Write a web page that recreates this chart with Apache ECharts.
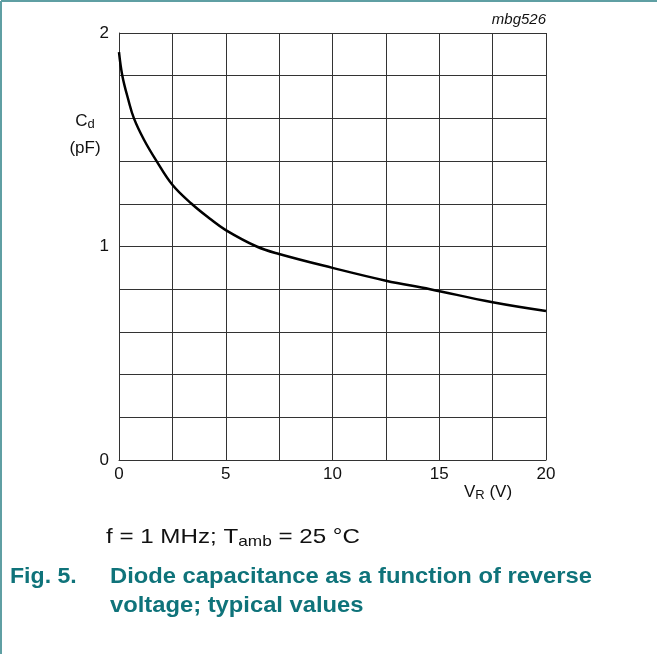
<!DOCTYPE html>
<html><head><meta charset="utf-8">
<script src="https://cdn.jsdelivr.net/npm/echarts@6/dist/echarts.min.js"></script>
<style>html,body{margin:0;padding:0;background:#fff}#c{width:657px;height:654px}</style>
</head><body><div id="c"></div>
<script>
const voltage = [0, 0.156, 0.44, 0.7, 1.17, 1.76, 2.5, 3.4, 4.26, 5, 6.45, 7.5, 10, 12.5, 14.57, 17.5, 20];
const capacitance = [1.91, 1.80, 1.686, 1.60, 1.50, 1.40, 1.289, 1.20, 1.13, 1.077, 1.00, 0.965, 0.90, 0.84, 0.80, 0.739, 0.698];
const xTickLabels = ['0', '5', '10', '15', '20'];
const yTickLabels = ['0', '1', '2'];

const chart = echarts.init(document.getElementById('c'));
const font = 'Liberation Sans, Arial, sans-serif';
const teal = '#0f737a';
chart.setOption({
  animation: false,
  grid: {left: 119, top: 33, width: 427, height: 427, show: false},
  xAxis: {
    type: 'value', min: 0, max: 20, interval: 2.5,
    axisLine: {show: true, lineStyle: {color: '#333', width: 1}},
    axisTick: {show: false},
    splitLine: {show: true, lineStyle: {color: '#333', width: 1}},
    axisLabel: {
      margin: 6, color: '#111', fontSize: 17, fontFamily: font,
      formatter: v => xTickLabels.includes(String(v)) ? String(v) : ''
    }
  },
  yAxis: {
    type: 'value', min: 0, max: 2, interval: 0.2,
    axisLine: {show: true, lineStyle: {color: '#333', width: 1}},
    axisTick: {show: false},
    splitLine: {show: true, lineStyle: {color: '#333', width: 1}},
    axisLabel: {
      margin: 10, color: '#111', fontSize: 17, fontFamily: font,
      formatter: v => { const s = String(Math.round(v * 10) / 10); return yTickLabels.includes(s) ? s : ''; }
    }
  },
  series: [{
    type: 'line', smooth: 0.4, showSymbol: false,
    lineStyle: {color: '#000', width: 2.5},
    data: voltage.map((v, i) => [v, capacitance[i]])
  }],
  graphic: [
    {type: 'line', shape: {x1: 1, y1: 1, x2: 657, y2: 1}, style: {stroke: '#5f9fa3', lineWidth: 2}},
    {type: 'line', shape: {x1: 1, y1: 1, x2: 1, y2: 654}, style: {stroke: '#5f9fa3', lineWidth: 2}},
    {type: 'text', x: 546, y: 20, style: {text: 'mbg526', align: 'right', verticalAlign: 'middle', font: 'italic 15px ' + font, fill: '#111'}},
    {type: 'text', x: 85, y: 121, style: {text: '{a|C}{s|d}', align: 'center', verticalAlign: 'middle',
      rich: {a: {fontSize: 17, fontFamily: font, fill: '#111'}, s: {fontSize: 13, fontFamily: font, fill: '#111', padding: [7, 0, 0, 0]}}}},
    {type: 'text', x: 85, y: 148, style: {text: '(pF)', align: 'center', verticalAlign: 'middle', font: '17px ' + font, fill: '#111'}},
    {type: 'text', x: 464, y: 492, style: {text: '{a|V}{s|R}{a| (V)}', verticalAlign: 'middle',
      rich: {a: {fontSize: 17, fontFamily: font, fill: '#111'}, s: {fontSize: 13, fontFamily: font, fill: '#111', padding: [7, 0, 0, 0]}}}},
    {type: 'text', x: 106, y: 537, scaleX: 1.15,
      style: {text: '{a|f = 1 MHz; T}{s|amb}{a| = 25 °C}', verticalAlign: 'middle',
      rich: {a: {fontSize: 21, fontFamily: font, fill: '#111'}, s: {fontSize: 15, fontFamily: font, fill: '#111', padding: [9, 0, 0, 0]}}}},
    {type: 'text', x: 10, y: 577, scaleX: 1.05, style: {text: 'Fig. 5.', verticalAlign: 'middle', font: 'bold 22px ' + font, fill: teal}},
    {type: 'text', x: 110, y: 577, scaleX: 1.08, style: {text: 'Diode capacitance as a function of reverse', verticalAlign: 'middle', font: 'bold 22px ' + font, fill: teal}},
    {type: 'text', x: 110, y: 606, scaleX: 1.08, style: {text: 'voltage; typical values', verticalAlign: 'middle', font: 'bold 22px ' + font, fill: teal}}
  ]
});
</script></body></html>
